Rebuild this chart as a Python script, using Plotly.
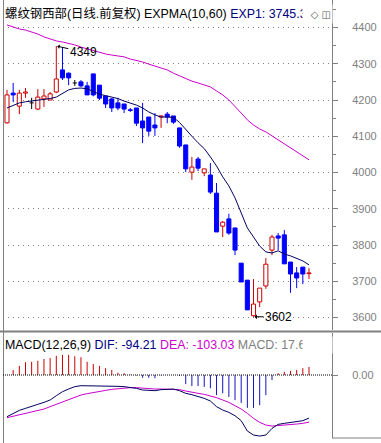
import plotly.graph_objects as go

W, H = 381, 443

# ---------------- data ----------------
opens = [4137, 4219, 4183, 4219, 4192, 4175, 4203, 4200, 4222, 4283,
         4274, 4247, 4250, 4239, 4272, 4241, 4211, 4203, 4192, 4189,
         4173, 4178, 4142, 4153, 4131, 4153, 4161, 4156, 4123, 4076,
         4001, 4037, 3999, 3993, 3943, 3852, 3872, 3847, 3750, 3703,
         3605, 3643, 3687, 3786, 3825, 3828, 3753, 3723, 3739, 3721]
highs = [4228, 4247, 4228, 4233, 4206, 4230, 4230, 4222, 4349, 4346,
         4276, 4255, 4255, 4250, 4272, 4241, 4211, 4205, 4206, 4189,
         4178, 4178, 4192, 4153, 4164, 4157, 4167, 4156, 4123, 4076,
         4043, 4043, 4010, 4026, 3971, 3866, 3886, 3847, 3750, 3703,
         3706, 3681, 3764, 3828, 3833, 3841, 3753, 3739, 3739, 3736]
lows = [4135, 4194, 4161, 4206, 4175, 4172, 4181, 4200, 4219, 4255,
        4241, 4239, 4236, 4214, 4210, 4200, 4178, 4167, 4172, 4164,
        4167, 4128, 4081, 4101, 4101, 4123, 4136, 4134, 4068, 4001,
        3980, 4004, 3990, 3941, 3836, 3822, 3828, 3772, 3698, 3621,
        3602, 3629, 3679, 3772, 3786, 3748, 3668, 3681, 3692, 3706]
closes = [4214, 4214, 4219, 4222, 4192, 4208, 4211, 4217, 4258, 4261,
          4261, 4247, 4239, 4214, 4214, 4205, 4189, 4178, 4178, 4175,
          4171, 4136, 4123, 4114, 4123, 4156, 4153, 4139, 4073, 4010,
          4015, 4012, 4010, 3946, 3836, 3863, 3833, 3786, 3698, 3621,
          3637, 3681, 3747, 3822, 3819, 3748, 3720, 3709, 3720, 3723]
expma10 = [4178, 4186, 4192, 4195, 4197, 4199, 4203, 4204, 4208, 4219,
           4228, 4232, 4233, 4231, 4224, 4216, 4212, 4208, 4204, 4197,
           4192, 4186, 4178, 4167, 4159, 4153, 4153, 4152, 4138, 4118,
           4100, 4082, 4066, 4043, 4018, 3988, 3963, 3930, 3891, 3847,
           3822, 3797, 3781, 3778, 3784, 3775, 3770, 3764, 3756, 3745.3]
expma60 = [4407, 4401, 4396, 4393, 4388, 4382, 4374, 4368, 4363, 4360,
           4357, 4352, 4346, 4341, 4338, 4332, 4327, 4324, 4321, 4319,
           4313, 4310, 4305, 4299, 4294, 4288, 4283, 4274, 4266, 4258,
           4252, 4247, 4241, 4236, 4225, 4214, 4200, 4183, 4164, 4145,
           4131, 4120, 4112, 4101, 4090, 4079, 4068, 4057, 4046, 4035]
dif = [-91.2, -83.9, -77.4, -73.0, -67.9, -64.2, -59.9, -54.7, -45.3, -36.5,
       -30.7, -25.5, -23.4, -23.4, -23.4, -23.4, -23.4, -24.1, -24.8, -25.5,
       -27.0, -29.2, -32.8, -34.3, -34.3, -32.1, -30.7, -30.7, -34.3, -40.1,
       -43.1, -46.7, -51.1, -56.9, -69.3, -76.6, -81.8, -89.1, -100.0, -122.6,
       -131.4, -133.6, -131.4, -116.8, -108.0, -105.8, -103.6, -101.5, -100.0, -94.21]
dea = [-93.4, -90.5, -87.6, -84.7, -81.8, -78.8, -74.5, -69.3, -64.2, -58.4,
       -52.6, -47.4, -43.8, -40.9, -38.0, -35.8, -33.6, -31.4, -29.9, -28.5,
       -27.7, -27.7, -29.2, -29.9, -30.7, -30.7, -30.7, -30.7, -32.1, -35.0,
       -38.0, -40.1, -42.3, -45.3, -49.6, -54.7, -59.9, -67.2, -74.5, -83.9,
       -94.9, -103.6, -109.5, -111.7, -110.9, -109.5, -108.0, -107.3, -105.8, -103.03]
macd = [0, 11, 20, 28, 29, 31, 35, 37, 42, 44,
        44, 41, 39, 29, 24, 20, 15, 11, 5, 4,
        1, -1, -6, -6, -7, -1, 0, 0, -2, -20,
        -24, -24, -26, -29, -44, -40, -48, -55, -61, -72,
        -72, -66, -44, -11, 4, 7, 9, 11, 15, 17.65]
price_ticks = [3600, 3700, 3800, 3900, 4000, 4100, 4200, 4300, 4400]
macd_ticks = [0]
macd_tick_text = ["0.00"]
high_label = "4349"
low_label = "3602"

# ---------------- styles ----------------
RED = "#cc0000"
BLUE = "#0000ff"
HBLUE = "#1414c0"
BLACK = "#000000"
NAVY = "#000060"
MAG = "#cc00cc"
GRAY = "#808080"
FONT = "Liberation Sans, Arial, Noto Sans CJK SC, sans-serif"
TITLE_SIZE = 12.4
BODY_W = 0.66
SP = 6.163  # px per candle
X0 = 7      # px of first candle

n = len(closes)
xs = list(range(n))
up = [i for i in xs if closes[i] > opens[i]]
dn = [i for i in xs if closes[i] < opens[i]]
eq = [i for i in xs if closes[i] == opens[i]]


def wicks(ids):
    X, Y = [], []
    for i in ids:
        top = max(opens[i], closes[i])
        bot = min(opens[i], closes[i])
        if highs[i] > top:
            X += [i, i, None]
            Y += [top, highs[i], None]
        if lows[i] < bot:
            X += [i, i, None]
            Y += [lows[i], bot, None]
    return X, Y


fig = go.Figure()

# bodies
fig.add_trace(go.Bar(x=up, y=[closes[i] - opens[i] for i in up], base=[opens[i] for i in up],
                     width=BODY_W, marker=dict(color="white", line=dict(color=RED, width=1)),
                     xaxis="x", yaxis="y", hoverinfo="skip"))
fig.add_trace(go.Bar(x=dn, y=[opens[i] - closes[i] for i in dn], base=[closes[i] for i in dn],
                     width=BODY_W, marker=dict(color=BLUE, line=dict(color=BLUE, width=1)),
                     xaxis="x", yaxis="y", hoverinfo="skip"))

# wicks
for ids, col in ((up, RED), (dn, BLUE), (eq, BLACK)):
    wx, wy = wicks(ids)
    fig.add_trace(go.Scatter(x=wx, y=wy, mode="lines", line=dict(color=col, width=1),
                             xaxis="x", yaxis="y", hoverinfo="skip"))
# doji bars
dx, dy = [], []
for i in eq:
    dx += [i - BODY_W / 2, i + BODY_W / 2, None]
    dy += [closes[i], closes[i], None]
fig.add_trace(go.Scatter(x=dx, y=dy, mode="lines", line=dict(color=BLACK, width=1),
                         xaxis="x", yaxis="y", hoverinfo="skip"))

# EXPMA lines
fig.add_trace(go.Scatter(x=xs, y=expma60, mode="lines", line=dict(color=MAG, width=1),
                         xaxis="x", yaxis="y", hoverinfo="skip"))
fig.add_trace(go.Scatter(x=xs, y=expma10, mode="lines", line=dict(color=NAVY, width=1),
                         xaxis="x", yaxis="y", hoverinfo="skip"))

# MACD histogram
for cond, col in ((lambda v: v > 0, RED), (lambda v: v < 0, HBLUE)):
    hx, hy = [], []
    for i in xs:
        if cond(macd[i]):
            hx += [i, i, None]
            hy += [0, macd[i], None]
    fig.add_trace(go.Scatter(x=hx, y=hy, mode="lines", line=dict(color=col, width=1),
                             xaxis="x2", yaxis="y2", hoverinfo="skip"))
fig.add_trace(go.Scatter(x=xs, y=dea, mode="lines", line=dict(color=MAG, width=1),
                         xaxis="x2", yaxis="y2", hoverinfo="skip"))
fig.add_trace(go.Scatter(x=xs, y=dif, mode="lines", line=dict(color=NAVY, width=1),
                         xaxis="x2", yaxis="y2", hoverinfo="skip"))

# ---------------- layout ----------------
xdom = [3 / W, 332 / W]
xr = [(3 - X0) / SP, (332 - X0) / SP]
PPU = 36.25 / 100.0  # px per price unit
Y4400 = 27.5
main_top, main_bot = 0, 330
y_range = [4400 - (main_bot - Y4400) / PPU, 4400 + (Y4400 - main_top) / PPU]
m_top, m_bot, m_zero, m_ppu = 333, 438, 375, 0.457
y2_range = [-(m_bot - m_zero) / m_ppu, (m_zero - m_top) / m_ppu]

axis_common = dict(side="right", showline=True, linecolor=GRAY, linewidth=1, ticks="outside",
                   ticklen=5, tickwidth=1, tickcolor=GRAY, zeroline=False, fixedrange=True,
                   tickfont=dict(family=FONT, size=11, color=GRAY), ticklabelstandoff=12)

fig.update_layout(
    width=W, height=H, margin=dict(l=0, r=0, t=0, b=0, pad=0),
    paper_bgcolor="white", plot_bgcolor="white", barmode="overlay", showlegend=False,
    hovermode=False,
    xaxis=dict(domain=xdom, range=xr, visible=False, anchor="y", fixedrange=True),
    xaxis2=dict(domain=xdom, range=xr, visible=False, anchor="y2", fixedrange=True),
    yaxis=dict(domain=[1 - main_bot / H, 1 - main_top / H], range=y_range, anchor="x",
               tickvals=price_ticks, ticktext=[str(v) for v in price_ticks],
               showgrid=True, gridcolor=GRAY, gridwidth=1, griddash="1px,4px",
               minor=dict(dtick=50, ticks="outside", ticklen=3, tickcolor=GRAY, showgrid=False),
               **axis_common),
    yaxis2=dict(domain=[1 - m_bot / H, 1 - m_top / H], range=y2_range, anchor="x2",
                tickvals=macd_ticks, ticktext=macd_tick_text, showgrid=False, **axis_common),
)

shapes = [
    dict(type="line", xref="paper", yref="paper", x0=3.5 / W, x1=3.5 / W, y0=0, y1=1,
         line=dict(color=GRAY, width=1)),
    dict(type="line", xref="paper", yref="paper", x0=0, x1=1, y0=1 - 331.5 / H, y1=1 - 331.5 / H,
         line=dict(color=GRAY, width=2)),
    dict(type="line", xref="paper", yref="paper", x0=332 / W, x1=1, y0=1 - m_bot / H, y1=1 - m_bot / H,
         line=dict(color=GRAY, width=1)),
    dict(type="line", xref="paper", yref="y2", x0=xdom[0], x1=xdom[1], y0=0, y1=0,
         line=dict(color=BLACK, width=1, dash="1px,1px")),
]
fig.update_layout(shapes=shapes)

ann = [
    dict(xref="paper", yref="paper", x=3 / W, y=1 - 14 / H, xanchor="left", yanchor="middle",
         showarrow=False, font=dict(family=FONT, size=TITLE_SIZE, color=BLACK),
         text='螺纹钢西部(日线.前复权) EXPMA(10,60) <span style="color:#000080">EXP1: 3745.30</span>'),
    dict(xref="paper", yref="paper", x=302 / W, y=1 - 14 / H, xanchor="left", yanchor="middle",
         showarrow=False, bgcolor="white", width=27, height=16, align="right",
         font=dict(family="DejaVu Sans, sans-serif", size=10, color="#606060"), text="◇ ◫"),
    dict(xref="paper", yref="paper", x=3 / W, y=1 - 345 / H, xanchor="left", yanchor="middle",
         showarrow=False, font=dict(family=FONT, size=TITLE_SIZE, color=BLACK),
         text='MACD(12,26,9) <span style="color:#000080">DIF: -94.21</span> '
              '<span style="color:#cc00cc">DEA: -103.03</span> '
              '<span style="color:#808080">MACD: 17.65</span>'),
    dict(xref="paper", yref="paper", x=302 / W, y=1 - 345 / H, xanchor="left", yanchor="middle",
         showarrow=False, bgcolor="white", width=27, height=14,
         font=dict(size=10, color="white"), text="&#160;"),
    dict(xref="x", yref="y", x=highs.index(max(highs)), y=max(highs), text=high_label,
         showarrow=True, ax=27, ay=6, arrowhead=1, arrowsize=0.8, arrowwidth=1, arrowcolor=BLACK,
         standoff=1, font=dict(family=FONT, size=12, color=BLACK)),
    dict(xref="x", yref="y", x=lows.index(min(lows)), y=min(lows), text=low_label,
         showarrow=True, ax=25, ay=0, arrowhead=1, arrowsize=0.8, arrowwidth=1, arrowcolor=BLACK,
         standoff=1, font=dict(family=FONT, size=12, color=BLACK)),
]
fig.update_layout(annotations=ann)

fig.write_html("out.html", config={"displayModeBar": False, "staticPlot": True},
               post_script="document.body.style.margin='0';")
